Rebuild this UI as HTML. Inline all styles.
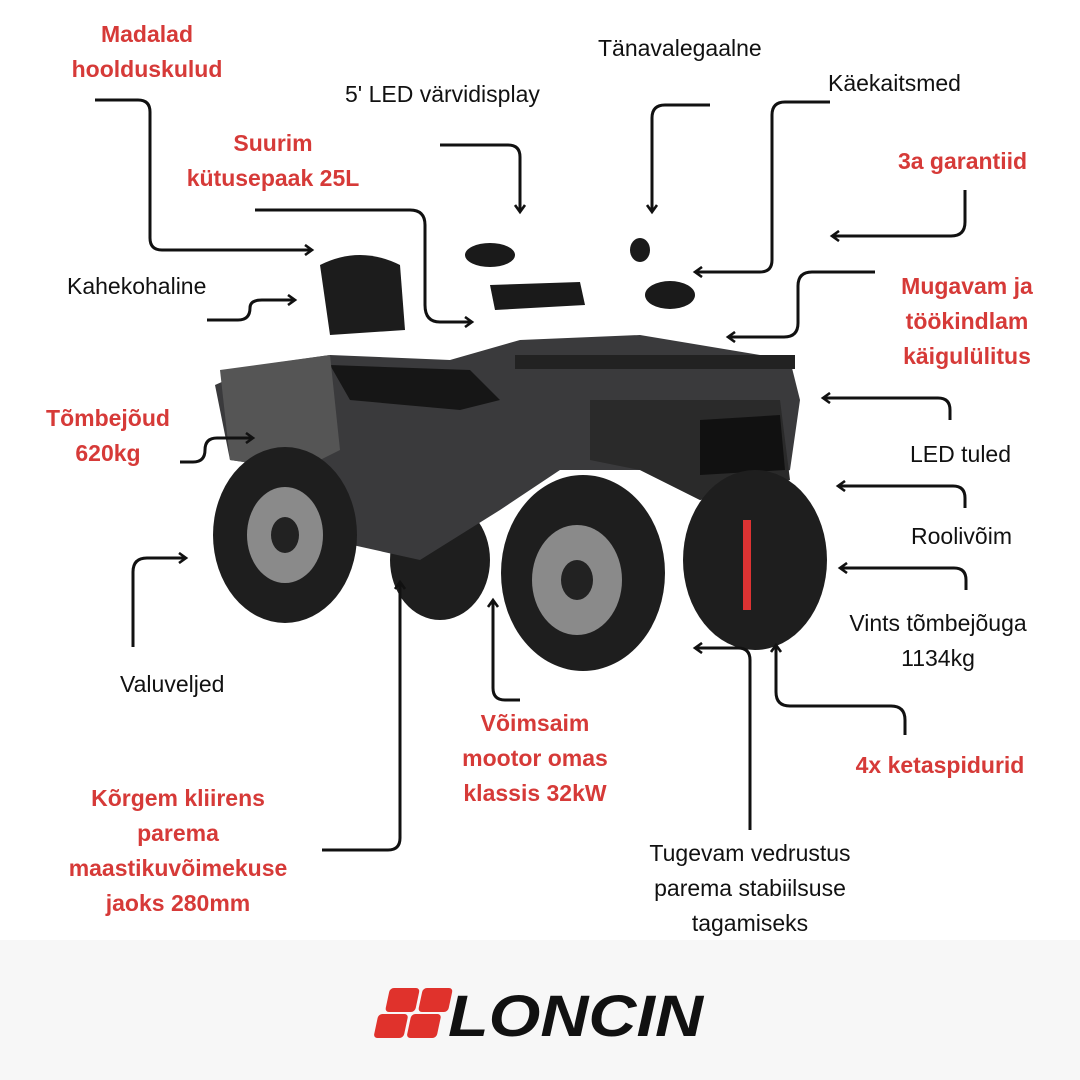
<!DOCTYPE html>
<html><head><meta charset="utf-8"><style>
body{margin:0;width:1080px;height:1080px;background:#fff;overflow:hidden;position:relative;font-family:"Liberation Sans",sans-serif}
.t{position:absolute;font-size:23px;color:#111;white-space:nowrap;line-height:35px}
.r{color:#d63a38;font-weight:bold;text-align:center}
.c{text-align:center}
svg{position:absolute;left:0;top:0}
</style></head><body>
<div style="position:absolute;left:0;top:940px;width:1080px;height:140px;background:#f7f7f7"></div>
<svg width="1080" height="1080">
<defs><marker id="a" markerWidth="12" markerHeight="12" refX="9" refY="6" orient="auto" markerUnits="userSpaceOnUse"><path d="M2,1 L9,6 L2,11" fill="none" stroke="#111" stroke-width="2.6"/></marker></defs>
<!-- ATV -->
<g>
<ellipse cx="440" cy="560" rx="50" ry="60" fill="#1e1e1e"/>
<path d="M215,385 L260,365 L330,355 L450,360 L520,340 L640,335 L790,360 L800,400 L790,470 L700,500 L640,470 L560,470 L500,510 L420,560 L330,540 L300,470 L230,460 Z" fill="#3a3a3c"/>
<path d="M330,365 L470,370 L500,400 L460,410 L350,400 Z" fill="#161616"/>
<path d="M320,265 Q360,245 400,265 L405,330 L330,335 Z" fill="#1c1c1c"/>
<path d="M590,400 L780,400 L790,480 L700,500 L640,470 L590,460 Z" fill="#2a2a2a"/>
<path d="M700,420 L780,415 L785,470 L700,475 Z" fill="#111"/>
<rect x="515" y="355" width="280" height="14" fill="#222"/>
<path d="M490,285 L580,282 L585,305 L495,310 Z" fill="#1a1a1a"/>
<path d="M220,370 L330,355 L340,450 L300,470 L230,460 Z" fill="#555"/>
<ellipse cx="285" cy="535" rx="72" ry="88" fill="#1e1e1e"/>
<ellipse cx="285" cy="535" rx="38" ry="48" fill="#8a8a8a"/>
<ellipse cx="285" cy="535" rx="14" ry="18" fill="#222"/>
<ellipse cx="755" cy="560" rx="72" ry="90" fill="#1e1e1e"/>
<ellipse cx="583" cy="573" rx="82" ry="98" fill="#1e1e1e"/>
<ellipse cx="577" cy="580" rx="45" ry="55" fill="#8a8a8a"/>
<ellipse cx="577" cy="580" rx="16" ry="20" fill="#222"/>
<rect x="743" y="520" width="8" height="90" fill="#d33"/>
<ellipse cx="490" cy="255" rx="25" ry="12" fill="#1a1a1a"/>
<ellipse cx="640" cy="250" rx="10" ry="12" fill="#1a1a1a"/>
<ellipse cx="670" cy="295" rx="25" ry="14" fill="#1a1a1a"/>
</g>
<g fill="none" stroke="#111" stroke-width="3" marker-end="url(#a)">
<path d="M95,100 H138 Q150,100 150,112 V238 Q150,250 162,250 H312"/>
<path d="M440,145 H508 Q520,145 520,157 V212"/>
<path d="M710,105 H665 Q652,105 652,118 V212"/>
<path d="M830,102 H785 Q772,102 772,115 V260 Q772,272 760,272 H695"/>
<path d="M255,210 H410 Q425,210 425,225 V305 Q425,322 440,322 H472"/>
<path d="M965,190 V222 Q965,236 951,236 H832"/>
<path d="M207,320 H238 Q250,320 250,308 Q250,300 262,300 H295"/>
<path d="M875,272 H812 Q798,272 798,286 V323 Q798,337 784,337 H728"/>
<path d="M180,462 H193 Q205,462 205,450 Q205,438 217,438 H253"/>
<path d="M950,420 V410 Q950,398 938,398 H823"/>
<path d="M965,508 V498 Q965,486 953,486 H838"/>
<path d="M966,590 V580 Q966,568 954,568 H840"/>
<path d="M133,647 V572 Q133,558 147,558 H186"/>
<path d="M322,850 H388 Q400,850 400,838 V582"/>
<path d="M520,700 H505 Q493,700 493,688 V600"/>
<path d="M750,830 V660 Q750,648 738,648 H695"/>
<path d="M905,735 V720 Q905,706 891,706 H790 Q776,706 776,692 V645"/>
</g>
<!-- logo -->
<g transform="skewX(-12)">
<rect x="600" y="988" width="30" height="24" rx="4" fill="#e0322c"/>
<rect x="633" y="988" width="30" height="24" rx="4" fill="#e0322c"/>
<rect x="594" y="1014" width="30" height="24" rx="4" fill="#e0322c"/>
<rect x="627" y="1014" width="30" height="24" rx="4" fill="#e0322c"/>
</g>
<text x="448" y="1036" font-family="Liberation Sans" font-weight="bold" font-style="italic" font-size="58" fill="#111" textLength="255" lengthAdjust="spacingAndGlyphs">LONCIN</text>
</svg>
<div class="t r" style="left:47px;top:17px;width:200px">Madalad<br>hoolduskulud</div>
<div class="t" style="left:345px;top:77px">5' LED värvidisplay</div>
<div class="t" style="left:598px;top:31px">Tänavalegaalne</div>
<div class="t" style="left:828px;top:66px">Käekaitsmed</div>
<div class="t r" style="left:153px;top:126px;width:240px">Suurim<br>kütusepaak 25L</div>
<div class="t r" style="left:880px;top:144px;width:165px">3a garantiid</div>
<div class="t" style="left:67px;top:269px">Kahekohaline</div>
<div class="t r" style="left:877px;top:269px;width:180px">Mugavam ja<br>töökindlam<br>käigulülitus</div>
<div class="t r" style="left:18px;top:401px;width:180px">Tõmbejõud<br>620kg</div>
<div class="t" style="left:910px;top:437px">LED tuled</div>
<div class="t" style="left:911px;top:519px">Roolivõim</div>
<div class="t c" style="left:818px;top:606px;width:240px">Vints tõmbejõuga<br>1134kg</div>
<div class="t" style="left:120px;top:667px">Valuveljed</div>
<div class="t r" style="left:435px;top:706px;width:200px">Võimsaim<br>mootor omas<br>klassis 32kW</div>
<div class="t r" style="left:835px;top:748px;width:210px">4x ketaspidurid</div>
<div class="t r" style="left:38px;top:781px;width:280px">Kõrgem kliirens<br>parema<br>maastikuvõimekuse<br>jaoks 280mm</div>
<div class="t c" style="left:610px;top:836px;width:280px">Tugevam vedrustus<br>parema stabiilsuse<br>tagamiseks</div>
</body></html>
